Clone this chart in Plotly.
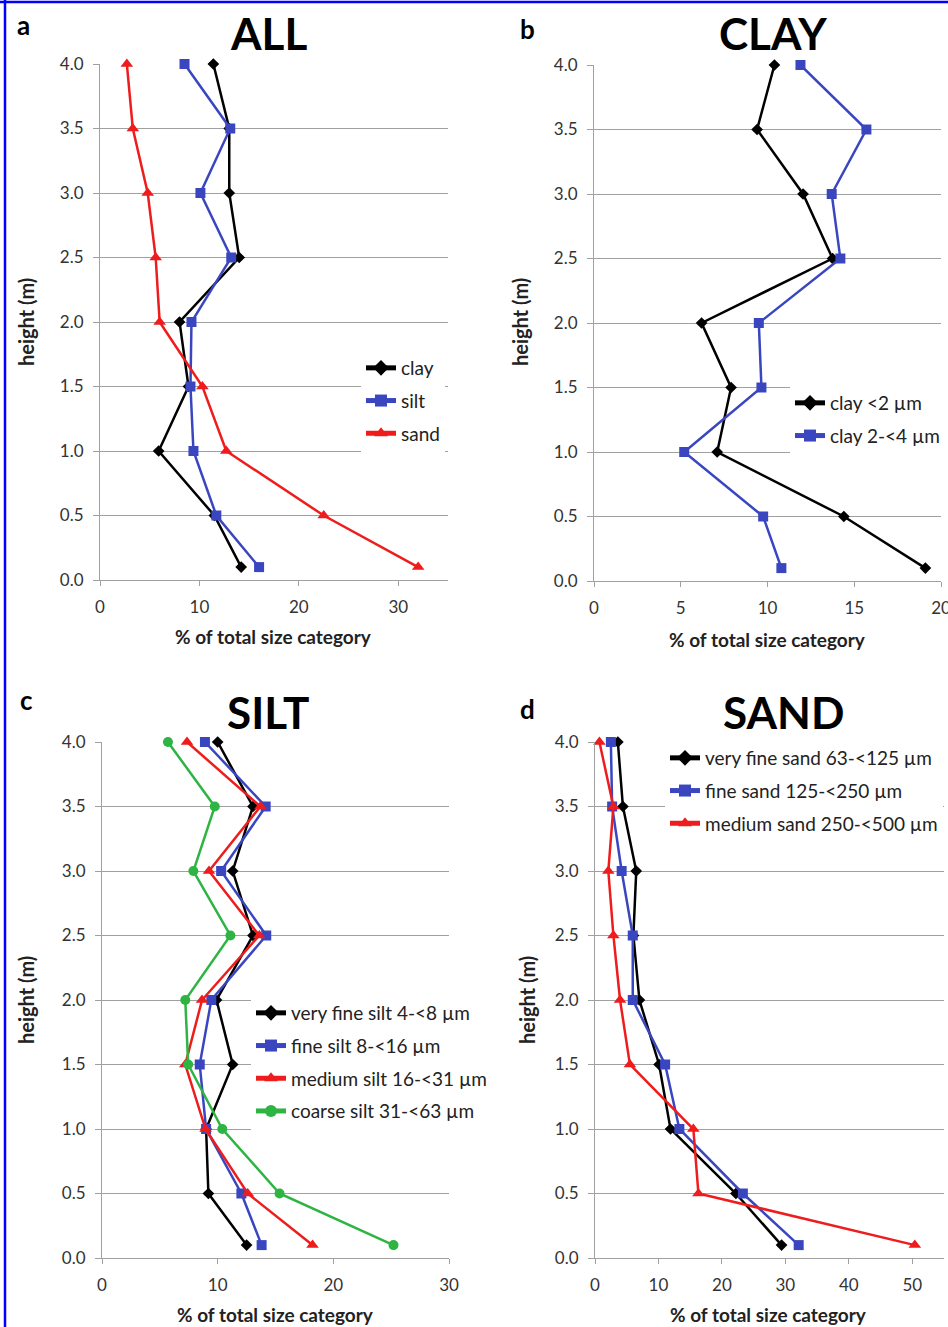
import plotly.graph_objects as go

W, H = 948, 1327

heights = [4.0, 3.5, 3.0, 2.5, 2.0, 1.5, 1.0, 0.5, 0.1]

all_clay = [11.4, 13.0, 13.0, 14.0, 8.0, 8.9, 5.9, 11.5, 14.2]
all_silt = [8.5, 13.1, 10.1, 13.2, 9.2, 9.1, 9.4, 11.7, 16.0]
all_sand = [2.7, 3.3, 4.8, 5.6, 6.0, 10.3, 12.7, 22.5, 32.0]

clay_lt2 = [10.4, 9.4, 12.05, 13.75, 6.2, 7.9, 7.1, 14.4, 19.1]
clay_2to4 = [11.9, 15.7, 13.7, 14.2, 9.5, 9.65, 5.2, 9.75, 10.8]

silt_vf = [10.0, 13.05, 11.3, 13.05, 9.9, 11.3, 9.0, 9.2, 12.5]
silt_f = [8.9, 14.15, 10.3, 14.2, 9.45, 8.45, 9.0, 12.05, 13.8]
silt_m = [7.35, 13.7, 9.25, 13.6, 8.65, 7.2, 8.95, 12.6, 18.2]
silt_c = [5.7, 9.75, 7.9, 11.1, 7.2, 7.45, 10.4, 15.35, 25.2]

sand_vf = [3.6, 4.4, 6.5, 6.05, 7.0, 10.1, 11.9, 22.2, 29.4]
sand_f = [2.5, 2.7, 4.2, 5.95, 5.95, 11.05, 13.3, 23.3, 32.1]
sand_m = [0.7, 2.9, 2.1, 2.9, 3.95, 5.5, 15.5, 16.3, 50.4]

panel_titles = ["ALL", "CLAY", "SILT", "SAND"]
panel_letters = ["a", "b", "c", "d"]
x_title = "% of total size category"
y_title = "height (m)"

BLACK, BLUE, RED, GREEN = "#000000", "#3A46C0", "#EE1C1C", "#2DB443"
FONT = "Lato"

def px_x(p):
    return p / W

def px_y(p):
    return 1 - p / H

fig = go.Figure()

def add(x, name, color, symbol, size, ax, legend):
    fig.add_trace(go.Scatter(
        x=x, y=heights, name=name, mode="lines+markers",
        line=dict(color=color, width=2.5),
        marker=dict(color=color, symbol=symbol, size=size),
        xaxis="x" + ax, yaxis="y" + ax, legend=legend,
        legendgroup=name, cliponaxis=False,
    ))

add(all_clay, "clay", BLACK, "diamond", 9, "", "legend")
add(all_silt, "silt", BLUE, "square", 10, "", "legend")
add(all_sand, "sand", RED, "triangle-up", 11, "", "legend")

add(clay_lt2, "clay <2 µm", BLACK, "diamond", 9, "2", "legend2")
add(clay_2to4, "clay 2-<4 µm", BLUE, "square", 10, "2", "legend2")

add(silt_vf, "very fine silt 4-<8 µm", BLACK, "diamond", 9, "3", "legend3")
add(silt_f, "fine silt 8-<16 µm", BLUE, "square", 10, "3", "legend3")
add(silt_m, "medium silt 16-<31 µm", RED, "triangle-up", 11, "3", "legend3")
add(silt_c, "coarse silt 31-<63 µm", GREEN, "circle", 10, "3", "legend3")

add(sand_vf, "very fine sand 63-<125 µm", BLACK, "diamond", 9, "4", "legend4")
add(sand_f, "fine sand 125-<250 µm", BLUE, "square", 10, "4", "legend4")
add(sand_m, "medium sand 250-<500 µm", RED, "triangle-up", 11, "4", "legend4")

# panel geometry in pixels: (x_left, x_right, y_top, y_bottom, xrange, xdtick)
panels = [
    (100, 448, 64, 580, [0, 35], 10),
    (594, 941, 65, 581, [0, 20], 5),
    (102, 449, 742, 1258, [0, 30], 10),
    (595, 944, 742, 1258, [0, 55], 10),
]

axis_col = "#a0a0a0"
tickfont = dict(family=FONT, size=17, color="#333333")
layout = {}
for i, (xl, xr, yt, yb, xr_, dt) in enumerate(panels):
    sfx = "" if i == 0 else str(i + 1)
    layout["xaxis" + sfx] = dict(
        domain=[px_x(xl), px_x(xr)], range=xr_, dtick=dt, tick0=0,
        anchor="y" + sfx, showgrid=False, zeroline=False, automargin=False,
        showline=True, linecolor=axis_col, linewidth=1.2,
        ticks="outside", ticklen=5, tickcolor=axis_col,
        tickfont=tickfont, ticklabelstandoff=6, fixedrange=True,
        ticklabeloverflow="allow",
    )
    layout["yaxis" + sfx] = dict(
        domain=[px_y(yb), px_y(yt)], range=[0, 4], dtick=0.5, tick0=0,
        tickformat=".1f", anchor="x" + sfx, showgrid=True, automargin=False,
        gridcolor=axis_col, gridwidth=1.2, zeroline=False,
        showline=True, linecolor=axis_col, linewidth=1.2,
        ticks="outside", ticklen=6, tickcolor=axis_col,
        tickfont=tickfont, ticklabelstandoff=6, fixedrange=True,
    )

legfont = dict(family=FONT, size=19, color="#222222")
def leg(x, y):
    return dict(x=px_x(x), y=px_y(y), xanchor="left", yanchor="top",
                font=legfont, bgcolor="white", tracegroupgap=5,
                itemsizing="constant", xref="paper", yref="paper")

layout["legend"] = leg(361, 349)
layout["legend2"] = leg(790, 384)
layout["legend3"] = leg(251, 994)
layout["legend4"] = leg(665, 739)

annotations = []
title_pos = [(268, 33), (773, 33), (268, 712), (783, 712)]
for t, (x, y) in zip(panel_titles, title_pos):
    annotations.append(dict(text="<b>" + t + "</b>", x=px_x(x), y=px_y(y),
                            xref="paper", yref="paper", showarrow=False,
                            font=dict(family=FONT, size=44, color="black"),
                            xanchor="center", yanchor="middle"))
letter_pos = [(23, 25), (527, 29), (26, 700), (527, 709)]
for t, (x, y) in zip(panel_letters, letter_pos):
    annotations.append(dict(text="<b>" + t + "</b>", x=px_x(x), y=px_y(y),
                            xref="paper", yref="paper", showarrow=False,
                            font=dict(family=FONT, size=26, color="black"),
                            xanchor="center", yanchor="middle"))
xt_pos = [(273, 636), (767, 640), (275, 1314), (768, 1314)]
for (x, y) in xt_pos:
    annotations.append(dict(text="<b>" + x_title + "</b>", x=px_x(x), y=px_y(y),
                            xref="paper", yref="paper", showarrow=False,
                            font=dict(family=FONT, size=19, color="#222222"),
                            xanchor="center", yanchor="middle"))
yt_pos = [(26, 322), (520, 322), (26, 1000), (527, 1000)]
for (x, y) in yt_pos:
    annotations.append(dict(text="<b>" + y_title + "</b>", x=px_x(x), y=px_y(y),
                            xref="paper", yref="paper", showarrow=False,
                            textangle=-90,
                            font=dict(family=FONT, size=20, color="#222222"),
                            xanchor="center", yanchor="middle"))

shapes = [
    dict(type="line", xref="paper", yref="paper", x0=px_x(5), x1=px_x(5),
         y0=0, y1=1, line=dict(color="#0000ff", width=2.5)),
    dict(type="line", xref="paper", yref="paper", x0=0, x1=1,
         y0=px_y(2), y1=px_y(2), line=dict(color="#0000ff", width=2.5)),
]

fig.update_layout(
    width=W, height=H, margin=dict(l=0, r=0, t=0, b=0, autoexpand=False),
    paper_bgcolor="white", plot_bgcolor="white",
    showlegend=True, annotations=annotations, shapes=shapes,
    **layout,
)

fig.write_html(
    "out.html",
    config={"displayModeBar": False},
    post_script="document.body.style.margin='0';document.body.style.overflow='hidden';",
)
